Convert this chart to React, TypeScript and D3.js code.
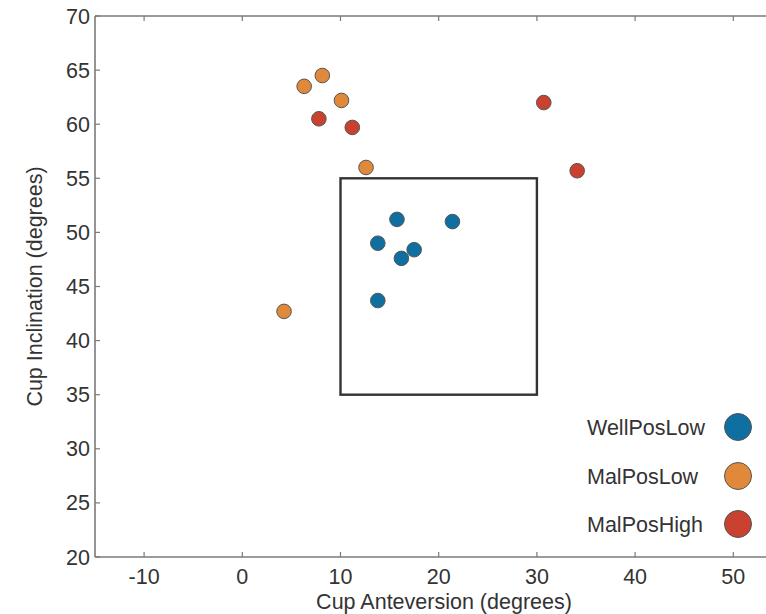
import { useEffect, useRef } from 'react';
import * as d3 from 'd3';

// valores (anteversión, inclinación) en grados
const wellPosLowX = [15.75, 21.4, 13.8, 17.5, 16.2, 13.8];
const wellPosLowY = [51.2, 51.0, 49.0, 48.4, 47.6, 43.7];
const malPosLowX = [6.3, 8.15, 10.1, 12.6, 4.25];
const malPosLowY = [63.5, 64.5, 62.2, 56.0, 42.7];
const malPosHighX = [7.8, 11.2, 30.7, 34.1];
const malPosHighY = [60.5, 59.7, 62.0, 55.7];

const groups = ['WellPosLow', 'MalPosLow', 'MalPosHigh'];
const colors = ['#0f6fa1', '#e0893b', '#c9412f'];

const xTicks = [-10, 0, 10, 20, 30, 40, 50];
const yTicks = [20, 25, 30, 35, 40, 45, 50, 55, 60, 65, 70];

// zona segura (caja)
const safeX = [10, 30];
const safeY = [35, 55];

const App = () => {
  const svgRef = useRef<SVGSVGElement | null>(null);

  useEffect(() => {
    if (!svgRef.current) return;
    const W = 766;
    const H = 614;
    const svg = d3.select(svgRef.current);
    svg.selectAll('*').remove();
    svg.attr('width', W).attr('height', H);

    const left = 95, top = 16, bottom = 557;
    const x = d3.scaleLinear().domain([-15, 53.5]).range([left, left + 68.5 * 9.82]);
    const y = d3.scaleLinear().domain([20, 70]).range([bottom, top]);

    const font = 'Liberation Sans, Arial, sans-serif';
    const fs = 21.5;
    const axisColor = '#7a7a7a';

    // ejes (marco abierto a la derecha)
    const g = svg.append('g');
    g.append('line').attr('x1', left).attr('x2', W).attr('y1', top).attr('y2', top)
      .attr('stroke', axisColor).attr('stroke-width', 1.6);
    g.append('line').attr('x1', left).attr('x2', W).attr('y1', bottom).attr('y2', bottom)
      .attr('stroke', axisColor).attr('stroke-width', 1.6);
    g.append('line').attr('x1', left).attr('x2', left).attr('y1', top).attr('y2', bottom)
      .attr('stroke', axisColor).attr('stroke-width', 1.6);

    // ticks x (abajo y arriba, hacia dentro)
    xTicks.forEach(t => {
      g.append('line').attr('x1', x(t)).attr('x2', x(t)).attr('y1', bottom).attr('y2', bottom - 5)
        .attr('stroke', axisColor).attr('stroke-width', 1.2);
      g.append('line').attr('x1', x(t)).attr('x2', x(t)).attr('y1', top).attr('y2', top + 5)
        .attr('stroke', axisColor).attr('stroke-width', 1.2);
      g.append('text').attr('x', x(t)).attr('y', 584).attr('text-anchor', 'middle')
        .attr('font-family', font).attr('font-size', fs).attr('fill', '#333').text(t);
    });

    yTicks.forEach(t => {
      g.append('line').attr('x1', left).attr('x2', left + 5).attr('y1', y(t)).attr('y2', y(t))
        .attr('stroke', axisColor).attr('stroke-width', 1.2);
      g.append('text').attr('x', 90).attr('y', y(t) + 7.5).attr('text-anchor', 'end')
        .attr('font-family', font).attr('font-size', fs).attr('fill', '#333').text(t);
    });

    // títulos de ejes
    svg.append('text').attr('x', 444).attr('y', 609).attr('text-anchor', 'middle')
      .attr('font-family', font).attr('font-size', fs).attr('fill', '#333')
      .text('Cup Anteversion (degrees)');
    svg.append('text').attr('transform', `translate(42,${(top + bottom) / 2}) rotate(-90)`)
      .attr('text-anchor', 'middle')
      .attr('font-family', font).attr('font-size', fs).attr('fill', '#333')
      .text('Cup Inclination (degrees)');

    // caja
    svg.append('rect')
      .attr('x', x(safeX[0])).attr('y', y(safeY[1]))
      .attr('width', x(safeX[1]) - x(safeX[0])).attr('height', y(safeY[0]) - y(safeY[1]))
      .attr('fill', 'none').attr('stroke', '#333').attr('stroke-width', 2.4);

    const series = [
      { xs: wellPosLowX, ys: wellPosLowY },
      { xs: malPosLowX, ys: malPosLowY },
      { xs: malPosHighX, ys: malPosHighY },
    ];

    series.forEach((s, k) => {
      svg.append('g').selectAll('circle').data(s.xs).enter().append('circle')
        .attr('cx', d => x(d))
        .attr('cy', (_, i) => y(s.ys[i]))
        .attr('r', 7.3)
        .attr('fill', colors[k])
        .attr('stroke', '#555')
        .attr('stroke-width', 1);
    });

    // leyenda
    const legY = [427, 476, 524];
    groups.forEach((name, k) => {
      svg.append('text').attr('x', 587).attr('y', legY[k] + 8)
        .attr('font-family', font).attr('font-size', fs).attr('fill', '#333').text(name);
      svg.append('circle').attr('cx', 738).attr('cy', legY[k]).attr('r', 13.5)
        .attr('fill', colors[k]).attr('stroke', '#555').attr('stroke-width', 1);
    });
  }, []);

  return <svg ref={svgRef} style={{ position: 'absolute', left: 0, top: 0, display: 'block' }} />;
};

export default App;
